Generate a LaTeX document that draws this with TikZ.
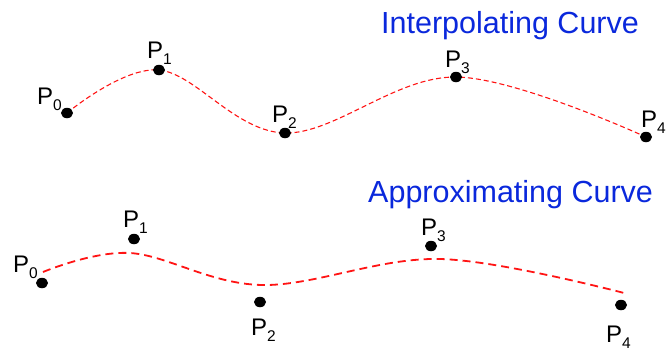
\documentclass[tikz,border=0pt]{standalone}
\usepackage{fontspec}
\setmainfont{Liberation Sans}
\usetikzlibrary{shapes.geometric}
\definecolor{titleblue}{RGB}{10,40,220}
\definecolor{curvered}{RGB}{255,20,20}
\newcommand\plab[1]{P\raisebox{-6.5pt}{\fontsize{15.5}{16}\selectfont #1}}
\begin{document}
\begin{tikzpicture}[x=1pt,y=-1pt,
  dot/.style={draw=none,fill=black,ellipse,minimum width=12pt,minimum height=10.5pt,inner sep=0pt},
  plabel/.style={anchor=base west,inner sep=0pt,font=\fontsize{24}{24}\selectfont},
  title/.style={anchor=base west,inner sep=0pt,text=titleblue,font=\fontsize{30.5}{32}\selectfont},
  interp/.style={curvered,dash pattern=on 5pt off 3pt,line width=1.1pt},
  approx/.style={curvered,dash pattern=on 8pt off 5pt,line width=1.8pt}]
\useasboundingbox (0,0) rectangle (666,351);
% titles
\node[title] (t1) at (381,33) {Interpolating Curve};
\node[title] (t2) at (368,202) {Approximating Curve};
% interpolating curve
\coordinate (a0) at (67,113);
\coordinate (a1) at (159,70);
\coordinate (a2) at (285,133);
\coordinate (a3) at (456,77);
\coordinate (a4) at (646,137);
\draw[interp] plot[smooth,tension=0.6] coordinates {(a0) (a1) (a2) (a3) (a4)};
\node[dot] (d0) at (a0) {};
\node[dot] (d1) at (a1) {};
\node[dot] (d2) at (a2) {};
\node[dot] (d3) at (a3) {};
\node[dot] (d4) at (a4) {};
\node[plabel] (l0) at (37,104) {\plab{0}};
\node[plabel] (l1) at (147,58) {\plab{1}};
\node[plabel] (l2) at (272,122) {\plab{2}};
\node[plabel] (l3) at (445,67) {\plab{3}};
\node[plabel] (l4) at (641,127) {\plab{4}};
% approximating curve
\coordinate (c0) at (43,272);
\coordinate (c1) at (130,253);
\coordinate (c2) at (262,285);
\coordinate (c3) at (440,259);
\coordinate (c4) at (628,294);
\draw[approx] plot[smooth,tension=0.6] coordinates {(c0) (c1) (c2) (c3) (c4)};
\node[dot] (e0) at (42,283) {};
\node[dot] (e1) at (134,239) {};
\node[dot] (e2) at (260,302) {};
\node[dot] (e3) at (431,246) {};
\node[dot] (e4) at (621,305) {};
\node[plabel] (m0) at (13,272) {\plab{0}};
\node[plabel] (m1) at (123,227) {\plab{1}};
\node[plabel] (m2) at (251,335) {\plab{2}};
\node[plabel] (m3) at (421,235) {\plab{3}};
\node[plabel] (m4) at (606,342) {\plab{4}};
\end{tikzpicture}
\end{document}
